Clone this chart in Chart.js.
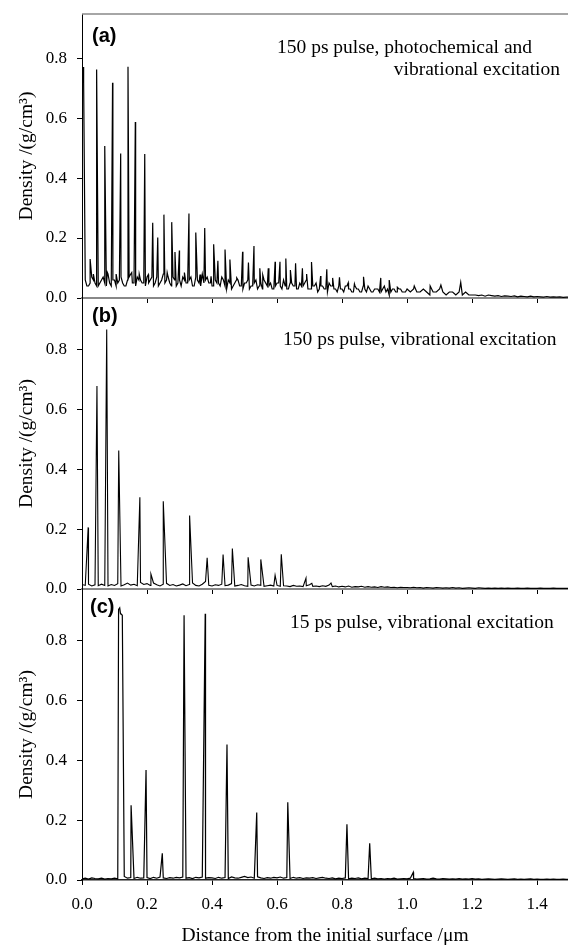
<!DOCTYPE html>
<html>
<head>
<meta charset="utf-8">
<script src="https://cdn.jsdelivr.net/npm/chart.js@4.4.1/dist/chart.umd.min.js"></script>
<style>
  html, body { margin: 0; padding: 0; background: #fff; }
  body { width: 568px; height: 948px; position: relative; overflow: hidden; }
  canvas { position: absolute; left: 0; }
</style>
</head>
<body>
<canvas id="panelA" width="568" height="310" style="top:0px"></canvas>
<canvas id="panelB" width="568" height="310" style="top:290px"></canvas>
<canvas id="panelC" width="568" height="368" style="top:580px"></canvas>
<script>
// baseline trace sampled every 0.01 um, from 0.00 to 1.50
const step = 0.01;

const baseA = [
  0.69,
  0.06, 0.04, 0.07, 0.05, 0.04, 0.06, 0.05, 0.08, 0.04, 0.06,
  0.05, 0.07, 0.04, 0.06, 0.08, 0.05, 0.07, 0.06, 0.05, 0.07,
  0.06, 0.04, 0.07, 0.05, 0.08, 0.06, 0.05, 0.07, 0.04, 0.06,
  0.07, 0.05, 0.06, 0.04, 0.07, 0.05, 0.08, 0.06, 0.05, 0.04,
  0.06, 0.05, 0.07, 0.04, 0.06, 0.03, 0.05, 0.06, 0.04, 0.05,
  0.06, 0.04, 0.05, 0.03, 0.05, 0.06, 0.04, 0.05, 0.03, 0.05,
  0.04, 0.06, 0.03, 0.05, 0.04, 0.03, 0.05, 0.04, 0.06, 0.03,
  0.04, 0.05, 0.03, 0.04, 0.03, 0.05, 0.04, 0.03, 0.04, 0.03,
  0.04, 0.03, 0.02, 0.04, 0.03, 0.02, 0.03, 0.04, 0.02, 0.03,
  0.03, 0.02, 0.04, 0.03, 0.02, 0.03, 0.02, 0.03, 0.02, 0.03,
  0.02, 0.03, 0.02, 0.02, 0.03, 0.02, 0.01, 0.02, 0.02, 0.03,
  0.02, 0.01, 0.02, 0.02, 0.01, 0.02, 0.01, 0.02, 0.01, 0.01,
  0.01, 0.008, 0.01, 0.006, 0.01, 0.008, 0.006, 0.008, 0.005, 0.007,
  0.006, 0.005, 0.007, 0.004, 0.006, 0.005, 0.004, 0.006, 0.004, 0.005,
  0.004, 0.003, 0.005, 0.003, 0.004, 0.003, 0.004, 0.002, 0.003, 0.003
];
// extra samples half-way between, 0.005 to 0.995
const midA = [
  0.72,
  0.04, 0.05, 0.06, 0.04, 0.05, 0.07, 0.04, 0.05, 0.06,
  0.04, 0.06, 0.05, 0.04, 0.07, 0.05, 0.04, 0.06, 0.05, 0.04,
  0.05, 0.07, 0.05, 0.04, 0.06, 0.05, 0.07, 0.04, 0.06, 0.05,
  0.04, 0.06, 0.05, 0.07, 0.04, 0.06, 0.04, 0.05, 0.07, 0.05,
  0.04, 0.05, 0.04, 0.06, 0.03, 0.05, 0.04, 0.06, 0.04, 0.03,
  0.05, 0.03, 0.04, 0.06, 0.04, 0.03, 0.05, 0.04, 0.03, 0.04,
  0.05, 0.03, 0.04, 0.03, 0.05, 0.04, 0.03, 0.04, 0.05, 0.03,
  0.03, 0.04, 0.02, 0.04, 0.03, 0.02, 0.04, 0.03, 0.02, 0.03,
  0.02, 0.04, 0.03, 0.02, 0.03, 0.02, 0.04, 0.02, 0.03, 0.02,
  0.03, 0.02, 0.03, 0.02, 0.01, 0.03, 0.02, 0.03, 0.02, 0.02
];
const peakXA = [
  0.004, 0.025, 0.035, 0.045, 0.070, 0.078, 0.094, 0.105, 0.119, 0.1415,
  0.153, 0.164, 0.176, 0.193, 0.204, 0.2175, 0.233, 0.252, 0.262, 0.276,
  0.286, 0.2995, 0.315, 0.329, 0.350, 0.363, 0.3775, 0.397, 0.405, 0.418,
  0.44, 0.455, 0.476, 0.494, 0.512, 0.529, 0.547, 0.556, 0.573, 0.594,
  0.609, 0.627, 0.641, 0.657, 0.678, 0.691, 0.706, 0.734, 0.753, 0.771,
  0.792, 0.819, 0.838, 0.866, 0.919, 0.945, 0.97, 1.022, 1.071, 1.104,
  1.165
];
const peakYA = [
  0.77, 0.13, 0.08, 0.762, 0.507, 0.085, 0.718, 0.08, 0.482, 0.771,
  0.085, 0.587, 0.08, 0.48, 0.078, 0.251, 0.202, 0.278, 0.085, 0.253,
  0.153, 0.158, 0.085, 0.282, 0.218, 0.078, 0.233, 0.072, 0.179, 0.124,
  0.162, 0.128, 0.067, 0.154, 0.118, 0.173, 0.099, 0.077, 0.099, 0.121,
  0.121, 0.132, 0.093, 0.116, 0.099, 0.08, 0.12, 0.073, 0.096, 0.067,
  0.069, 0.051, 0.047, 0.071, 0.067, 0.06, 0.036, 0.04, 0.04, 0.043,
  0.052
];

const baseB = [
  0.015, 0.012, 0.016, 0.010, 0.014, 0.011, 0.016, 0.012, 0.010, 0.015,
  0.012, 0.018, 0.010, 0.014, 0.020, 0.013, 0.016, 0.011, 0.022, 0.015,
  0.018, 0.012, 0.020, 0.014, 0.010, 0.016, 0.019, 0.012, 0.015, 0.010,
  0.013, 0.017, 0.011, 0.015, 0.020, 0.012, 0.010, 0.016, 0.025, 0.012,
  0.010, 0.014, 0.012, 0.016, 0.011, 0.013, 0.018, 0.010, 0.012, 0.015,
  0.011, 0.009, 0.013, 0.010, 0.014, 0.012, 0.009, 0.011, 0.013, 0.010,
  0.012, 0.009, 0.011, 0.010, 0.008, 0.012, 0.009, 0.010, 0.008, 0.011,
  0.014, 0.009, 0.010, 0.008, 0.011, 0.009, 0.013, 0.008, 0.010, 0.007,
  0.009, 0.007, 0.010, 0.006, 0.008, 0.007, 0.009, 0.006, 0.008, 0.006,
  0.007, 0.005, 0.008, 0.006, 0.007, 0.005, 0.006, 0.004, 0.006, 0.005,
  0.005, 0.004, 0.006, 0.004, 0.005, 0.003, 0.005, 0.004, 0.003, 0.005,
  0.004, 0.003, 0.004, 0.003, 0.005, 0.003, 0.004, 0.002, 0.003, 0.004,
  0.003, 0.002, 0.004, 0.003, 0.002, 0.003, 0.002, 0.003, 0.002, 0.003,
  0.002, 0.003, 0.002, 0.002, 0.003, 0.002, 0.002, 0.003, 0.002, 0.002,
  0.002, 0.003, 0.002, 0.002, 0.002, 0.003, 0.002, 0.002, 0.002, 0.002,
  0.002
];
const peakXB = [
  0.019, 0.046, 0.076, 0.113, 0.178, 0.212, 0.250, 0.331, 0.385, 0.434,
  0.4625, 0.511, 0.550, 0.594, 0.613, 0.689, 0.707, 0.766
];
const peakYB = [
  0.206, 0.679, 0.868, 0.463, 0.307, 0.05, 0.293, 0.246, 0.104, 0.115,
  0.135, 0.106, 0.099, 0.046, 0.116, 0.036, 0.019, 0.02
];

const baseC = [
  0.004, 0.006, 0.003, 0.007, 0.005, 0.004, 0.006, 0.003, 0.005, 0.004,
  0.006, 0.004, 0.89, 0.012, 0.006, 0.008, 0.005, 0.009, 0.006, 0.007,
  0.008, 0.005, 0.009, 0.006, 0.010, 0.007, 0.005, 0.008, 0.006, 0.009,
  0.007, 0.010, 0.006, 0.008, 0.005, 0.009, 0.007, 0.010, 0.006, 0.008,
  0.007, 0.005, 0.009, 0.006, 0.008, 0.005, 0.010, 0.007, 0.006, 0.009,
  0.012, 0.008, 0.010, 0.006, 0.011, 0.007, 0.005, 0.008, 0.006, 0.009,
  0.007, 0.010, 0.006, 0.008, 0.005, 0.009, 0.006, 0.008, 0.005, 0.007,
  0.006, 0.008, 0.005, 0.007, 0.009, 0.006, 0.005, 0.007, 0.004, 0.006,
  0.005, 0.007, 0.004, 0.006, 0.005, 0.007, 0.004, 0.006, 0.005, 0.004,
  0.006, 0.004, 0.005, 0.003, 0.005, 0.004, 0.006, 0.003, 0.004, 0.005,
  0.004, 0.006, 0.005, 0.003, 0.004, 0.005, 0.003, 0.004, 0.006, 0.004,
  0.003, 0.005, 0.004, 0.003, 0.004, 0.003, 0.005, 0.003, 0.004, 0.003,
  0.005, 0.003, 0.004, 0.002, 0.003, 0.004, 0.003, 0.002, 0.003, 0.004,
  0.003, 0.002, 0.003, 0.004, 0.002, 0.003, 0.002, 0.003, 0.004, 0.002,
  0.003, 0.002, 0.002, 0.003, 0.002, 0.003, 0.002, 0.002, 0.003, 0.002,
  0.002
];
const peakXC = [
  0.1125, 0.116, 0.1185, 0.124, 0.151, 0.197, 0.247, 0.314, 0.379, 0.446,
  0.5375, 0.633, 0.815, 0.885, 1.019
];
const peakYC = [
  0.905, 0.91, 0.89, 0.885, 0.25, 0.368, 0.089, 0.885, 0.89, 0.453,
  0.226, 0.26, 0.186, 0.123, 0.026
];

const xTicks = [0, 0.2, 0.4, 0.6, 0.8, 1.0, 1.2, 1.4];
const yTicks = [0, 0.2, 0.4, 0.6, 0.8];
const xMax = 1.495;

const serif = '"Liberation Serif", "Times New Roman", serif';
const xTitle = 'Distance from the initial surface /\u03bcm';
const yTitle = 'Density /(g/cm\u00b3)';

// merge the coarse trace, the in-between samples and the spike tops
function trace(base, mid, px, py) {
  const pts = base.map((v, i) => ({ x: +(i * step).toFixed(3), y: v }));
  mid.forEach((v, i) => pts.push({ x: +((i + 0.5) * step).toFixed(4), y: v }));
  px.forEach((x, i) => pts.push({ x: x, y: py[i] }));
  return pts.sort((a, b) => a.x - b.x);
}

// panel letter, caption and top frame line
function textPlugin(cfg) {
  return {
    id: 'panelText',
    afterDraw(chart) {
      const ctx = chart.ctx, a = chart.chartArea;
      ctx.save();
      if (cfg.topBorder) {
        ctx.strokeStyle = '#888';
        ctx.lineWidth = 1.5;
        ctx.beginPath();
        ctx.moveTo(a.left, a.top);
        ctx.lineTo(a.right, a.top);
        ctx.stroke();
      }
      ctx.fillStyle = '#000';
      ctx.textBaseline = 'middle';
      ctx.textAlign = 'left';
      ctx.font = 'bold 20px "Liberation Sans", Arial, sans-serif';
      ctx.fillText(cfg.label, a.left + cfg.labelX, a.top + cfg.labelY);
      ctx.font = '19.5px ' + serif;
      cfg.lines.forEach(l => {
        ctx.textAlign = l.align;
        ctx.fillText(l.text, a.left + l.dx, a.top + l.dy);
      });
      ctx.restore();
    }
  };
}

function makePanel(id, points, cfg) {
  return new Chart(document.getElementById(id), {
    type: 'line',
    data: {
      datasets: [{
        data: points,
        borderColor: '#000',
        borderWidth: cfg.lineW,
        pointRadius: 0,
        tension: 0,
        fill: false
      }]
    },
    options: {
      responsive: false,
      animation: false,
      devicePixelRatio: 1,
      layout: { padding: { top: cfg.padTop, left: 0, right: 0, bottom: 0 } },
      plugins: {
        legend: { display: false },
        tooltip: { enabled: false }
      },
      scales: {
        x: {
          type: 'linear',
          min: 0,
          max: xMax,
          afterBuildTicks: s => { s.ticks = xTicks.map(v => ({ value: v })); },
          afterFit: s => { s.height = cfg.xHeight; s.paddingLeft = 0; s.paddingRight = 0; },
          grid: { drawOnChartArea: false, drawTicks: true, tickLength: 5, color: '#000' },
          border: { color: cfg.xBorder, width: cfg.xBorderW },
          ticks: {
            autoSkip: false,
            maxRotation: 0,
            padding: 9,
            color: '#000',
            font: { family: serif, size: 17 },
            callback: v => cfg.last ? v.toFixed(1) : ''
          },
          title: {
            display: !!cfg.last,
            text: xTitle,
            color: '#000',
            font: { family: serif, size: 19.5 },
            padding: { top: 0, bottom: 0 }
          }
        },
        y: {
          min: 0,
          max: cfg.yMax,
          afterBuildTicks: s => { s.ticks = yTicks.map(v => ({ value: v })); },
          afterFit: s => { s.width = 82; s.paddingTop = 0; s.paddingBottom = 0; },
          grid: { drawOnChartArea: false, drawTicks: true, tickLength: 5, color: '#000' },
          border: { color: '#000', width: 1 },
          ticks: {
            padding: 10,
            color: '#000',
            font: { family: serif, size: 17 },
            callback: v => v.toFixed(1)
          },
          title: {
            display: true,
            text: yTitle,
            color: '#000',
            font: { family: serif, size: 19.5 },
            padding: { top: 15, bottom: 0 }
          }
        }
      }
    },
    plugins: [textPlugin(cfg)]
  });
}

makePanel('panelA', trace(baseA, midA, peakXA, peakYA), {
  padTop: 14, xHeight: 12, yMax: 0.947, xBorder: '#888', xBorderW: 2, topBorder: true, lineW: 1.2,
  label: '(a)', labelX: 10, labelY: 22,
  lines: [
    { text: '150 ps pulse, photochemical and', align: 'left', dx: 195, dy: 34 },
    { text: 'vibrational excitation', align: 'right', dx: 478, dy: 56 }
  ]
});

makePanel('panelB', trace(baseB, [], peakXB, peakYB), {
  padTop: 8, xHeight: 11, yMax: 0.973, xBorder: '#888', xBorderW: 2, lineW: 1.1,
  label: '(b)', labelX: 10, labelY: 18,
  lines: [
    { text: '150 ps pulse, vibrational excitation', align: 'left', dx: 201, dy: 42 }
  ]
});

makePanel('panelC', trace(baseC, [], peakXC, peakYC), {
  padTop: 9, xHeight: 68, yMax: 0.973, xBorder: '#222', xBorderW: 1.5, last: true, lineW: 1.2,
  label: '(c)', labelX: 8, labelY: 18,
  lines: [
    { text: '15 ps pulse, vibrational excitation', align: 'left', dx: 208, dy: 34 }
  ]
});
</script>
</body>
</html>
